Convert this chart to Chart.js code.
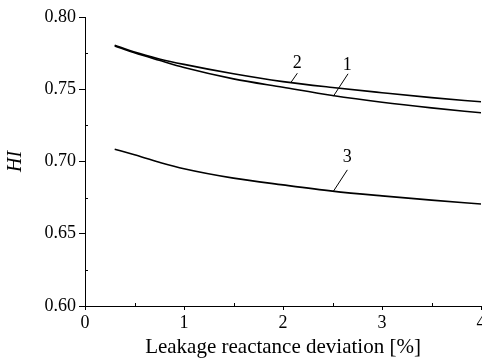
<!DOCTYPE html>
<html>
<head>
<meta charset="utf-8">
<script src="https://cdn.jsdelivr.net/npm/chart.js@4"></script>
<style>
  html, body { margin: 0; padding: 0; background: #fff; }
  #wrap { width: 482px; height: 358px; }
</style>
</head>
<body>
<div id="wrap"><canvas id="c" width="482" height="358"></canvas></div>
<script>
const xValues = [0.3, 0.5, 0.75, 1.0, 1.5, 2.0, 2.5, 3.0, 3.5, 4.0];
const curve1 = [0.7800, 0.7752, 0.7700, 0.7650, 0.7572, 0.7514, 0.7457, 0.7410, 0.7371, 0.7337];
const curve2 = [0.7805, 0.7757, 0.7710, 0.7672, 0.7607, 0.7553, 0.7512, 0.7476, 0.7442, 0.7413];
const curve3 = [0.7085, 0.7046, 0.6995, 0.6950, 0.6885, 0.6838, 0.6795, 0.6762, 0.6733, 0.6706];

const xTickLabels = ['0', '1', '2', '3', '4'];
const yTickLabels = ['0.60', '0.65', '0.70', '0.75', '0.80'];
const xMinorTicks = [0.5, 1.5, 2.5, 3.5];
const yMinorTicks = [0.625, 0.675, 0.725, 0.775];

const curveNames = ['1', '2', '3'];
const labelX = [2.65, 2.145, 2.65];
const labelY = [0.7669, 0.7683, 0.7032];
const leaderFrom = [[2.657, 0.7607], [2.145, 0.7611], [2.65, 0.6942]];
const leaderTo = [[2.509, 0.7452], [2.078, 0.7545], [2.509, 0.6794]];

const xTitle = 'Leakage reactance deviation [%]';
const yTitle = 'HI';

const serif = "'Liberation Serif', 'Times New Roman', serif";

function pts(ys) { return xValues.map((x, i) => ({ x: x, y: ys[i] })); }

const annotPlugin = {
  id: 'annot',
  afterDraw(chart) {
    const ctx = chart.ctx;
    const xs = chart.scales.x, ys = chart.scales.y;
    const area = chart.chartArea;
    ctx.save();
    ctx.strokeStyle = '#000';
    ctx.lineWidth = 1;
    // minor ticks (inward)
    ctx.beginPath();
    xMinorTicks.forEach(v => {
      const px = Math.round(xs.getPixelForValue(v)) + 0.5;
      ctx.moveTo(px, area.bottom);
      ctx.lineTo(px, area.bottom - 3);
    });
    yMinorTicks.forEach(v => {
      const py = Math.round(ys.getPixelForValue(v)) + 0.5;
      ctx.moveTo(area.left, py);
      ctx.lineTo(area.left + 3, py);
    });
    ctx.stroke();
    // curve labels and leader lines
    ctx.fillStyle = '#000';
    ctx.font = '18px ' + serif;
    ctx.textAlign = 'center';
    ctx.textBaseline = 'middle';
    curveNames.forEach((n, i) => {
      ctx.fillText(n, xs.getPixelForValue(labelX[i]), ys.getPixelForValue(labelY[i]));
      ctx.beginPath();
      ctx.moveTo(xs.getPixelForValue(leaderFrom[i][0]), ys.getPixelForValue(leaderFrom[i][1]));
      ctx.lineTo(xs.getPixelForValue(leaderTo[i][0]), ys.getPixelForValue(leaderTo[i][1]));
      ctx.stroke();
    });
    ctx.restore();
  }
};

const lineStyle = {
  borderColor: '#000',
  borderWidth: 1.6,
  pointRadius: 0,
  fill: false,
  cubicInterpolationMode: 'monotone'
};

new Chart(document.getElementById('c'), {
  type: 'line',
  data: {
    datasets: [
      Object.assign({ label: '1', data: pts(curve1) }, lineStyle),
      Object.assign({ label: '2', data: pts(curve2) }, lineStyle),
      Object.assign({ label: '3', data: pts(curve3) }, lineStyle)
    ]
  },
  options: {
    responsive: false,
    animation: false,
    devicePixelRatio: 1,
    layout: { padding: { top: 17, right: 1, left: 0, bottom: 0 } },
    plugins: { legend: { display: false }, tooltip: { enabled: false } },
    scales: {
      x: {
        type: 'linear',
        min: 0, max: 4,
        afterFit(scale) { scale.height = 52; scale.paddingRight = 0; scale.paddingLeft = 0; },
        ticks: {
          stepSize: 1,
          autoSkip: false,
          maxRotation: 0,
          padding: 2,
          color: '#000',
          font: { family: serif, size: 18 },
          callback: (v) => { const i = Math.round(v); return Math.abs(v - i) < 1e-9 ? xTickLabels[i] : ''; }
        },
        grid: { display: true, drawOnChartArea: false, drawTicks: true, tickLength: 4, tickColor: '#000', lineWidth: 1 },
        border: { display: true, color: '#000', width: 1 },
        title: { display: true, text: xTitle, color: '#000', padding: { top: 0, bottom: 0 }, font: { family: serif, size: 21, lineHeight: 1 } }
      },
      y: {
        min: 0.6, max: 0.8,
        afterFit(scale) { scale.width = 85; scale.paddingTop = 0; scale.paddingBottom = 0; },
        ticks: {
          stepSize: 0.05,
          padding: 3,
          color: '#000',
          font: { family: serif, size: 18 },
          callback: (v) => { const i = Math.round((v - 0.6) / 0.05); return Math.abs(v - (0.6 + i * 0.05)) < 1e-6 ? yTickLabels[i] : ''; }
        },
        grid: { display: true, drawOnChartArea: false, drawTicks: true, tickLength: 6, tickColor: '#000', lineWidth: 1 },
        border: { display: true, color: '#000', width: 1 },
        title: { display: true, text: yTitle, color: '#000', padding: { top: 6, bottom: 0 }, font: { family: serif, size: 20, style: 'italic', lineHeight: 1 } }
      }
    }
  },
  plugins: [annotPlugin]
});
</script>
</body>
</html>
